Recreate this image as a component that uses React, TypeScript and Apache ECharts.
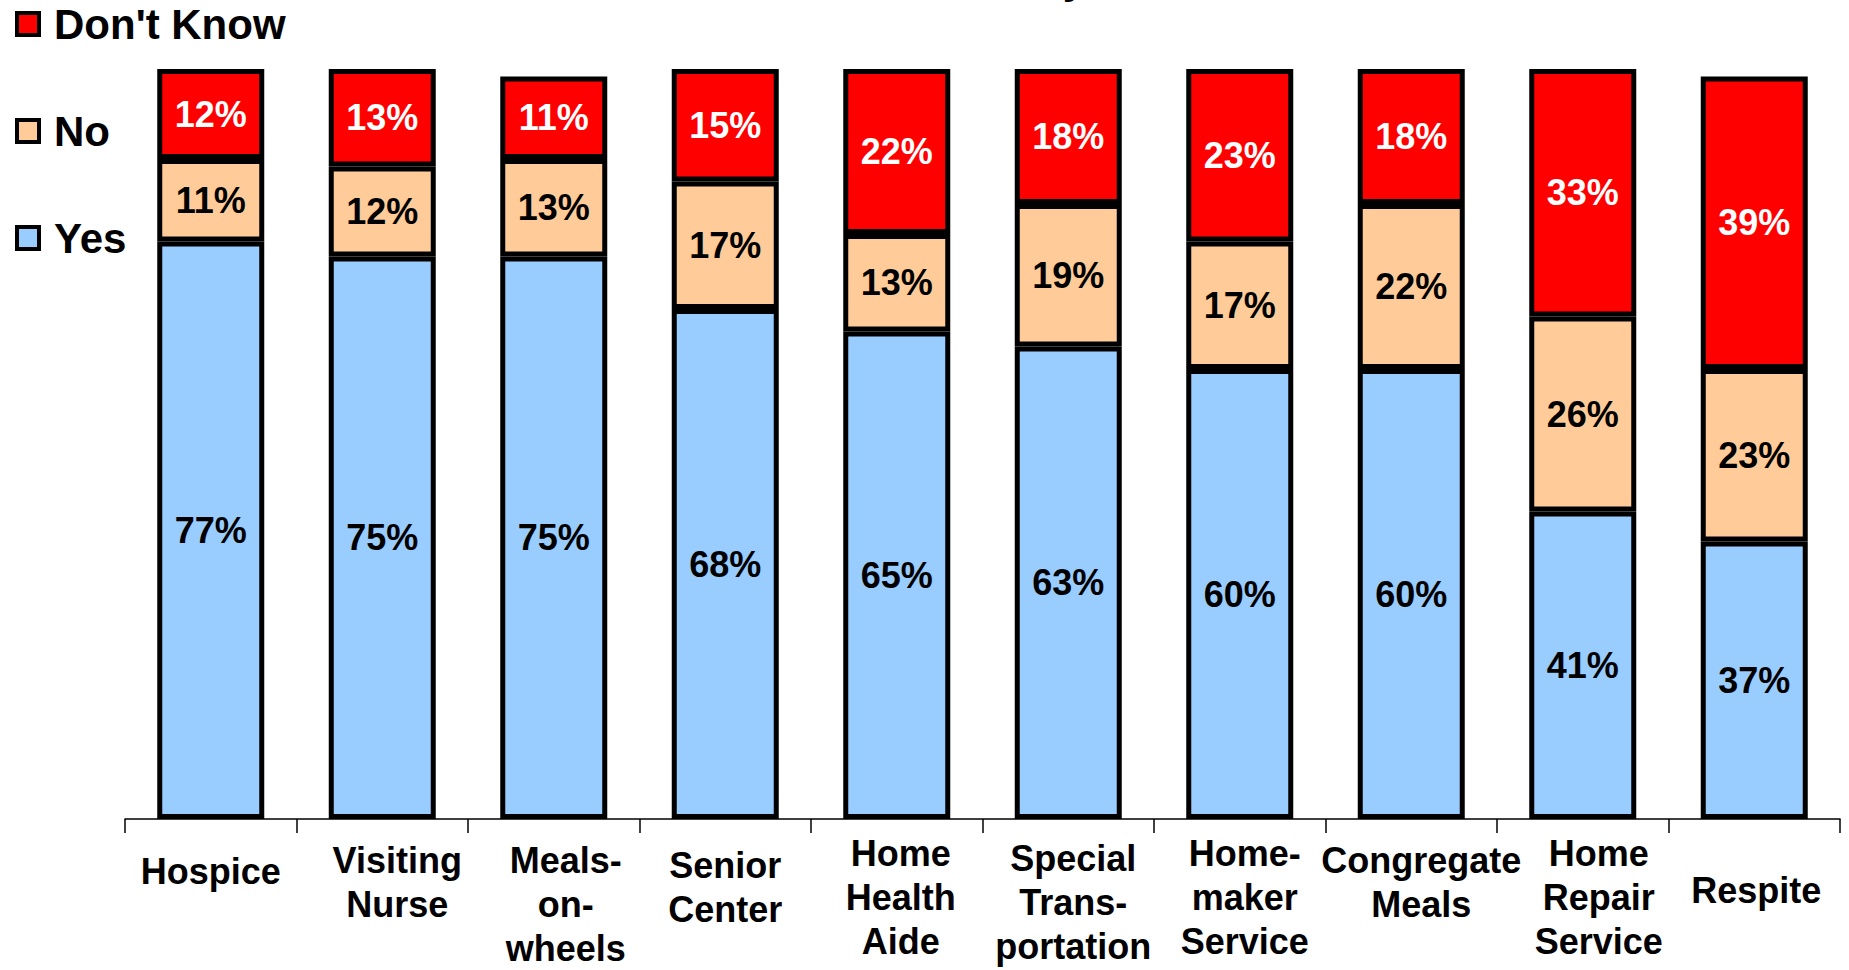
import React, { useEffect, useRef } from "react";
import * as echarts from "echarts";

const categories = [
  "Hospice",
  "Visiting\nNurse",
  "Meals-\non-\nwheels",
  "Senior\nCenter",
  "Home\nHealth\nAide",
  "Special\nTrans-\nportation",
  "Home-\nmaker\nService",
  "Congregate\nMeals",
  "Home\nRepair\nService",
  "Respite",
];
const yesValues = [77, 75, 75, 68, 65, 63, 60, 60, 41, 37];
const noValues = [11, 12, 13, 17, 13, 19, 17, 22, 26, 23];
const dontKnowValues = [12, 13, 11, 15, 22, 18, 23, 18, 33, 39];
const seriesNames = ["Yes", "No", "Don't Know"];
const titleText = "in Your Community";

// per-label layout tweaks: [top padding, left padding]
const labelPads = [
  [18, 0], [7, 30], [7, 24], [12, 0], [0, 8],
  [5, 10], [0, 10], [7, 20], [0, 32], [37, 4],
];

const FONT = "'Liberation Sans', Arial, sans-serif";

export default function App() {
  const ref = useRef<HTMLDivElement>(null);
  useEffect(() => {
    if (!ref.current) return;
    const chart = echarts.init(ref.current, null, { renderer: "svg" });
    const colors = ["#99CCFF", "#FFCC99", "#FF0000"];
    const values = [yesValues, noValues, dontKnowValues];
    const labelColors = ["#000000", "#000000", "#FFFFFF"];
    chart.setOption({
      animation: false,
      textStyle: { fontFamily: FONT },
      graphic: [
        {
          type: "text",
          x: 1086,
          y: -43,
          style: {
            text: titleText,
            font: `bold 42px ${FONT}`,
            fill: "#000",
            textAlign: "right",
            textVerticalAlign: "top",
          },
        },
      ],
      legend: {
        orient: "vertical",
        left: 15,
        top: 3,
        padding: 0,
        icon: "rect",
        itemWidth: 22,
        itemHeight: 22,
        itemGap: 65,
        data: ["Don't Know", "No", "Yes"],
        textStyle: {
          fontSize: 42,
          fontWeight: "bold",
          color: "#000",
          lineHeight: 40,
          padding: [0, 0, 0, 10],
          fontFamily: FONT,
        },
        itemStyle: { borderColor: "#000", borderWidth: 4, borderJoin: "miter" },
      },
      grid: { left: 125, right: 9, top: 69, bottom: 145, containLabel: false },
      xAxis: {
        type: "category",
        data: categories.map((c, i) => ({
          value: c,
          textStyle: { padding: [labelPads[i][0], 0, 0, labelPads[i][1]] },
        })),
        axisLine: { lineStyle: { color: "#000", width: 1.5 } },
        axisTick: { show: true, length: 14, lineStyle: { color: "#000", width: 1.5 } },
        axisLabel: {
          interval: 0,
          fontSize: 36,
          fontWeight: "bold",
          color: "#000",
          lineHeight: 44,
          margin: 12,
          fontFamily: FONT,
        },
      },
      yAxis: {
        type: "value",
        min: 0,
        max: 100,
        show: false,
        splitLine: { show: false },
      },
      series: seriesNames.map((name, i) => ({
        name,
        type: "bar",
        stack: "total",
        barWidth: 107,
        data: values[i],
        itemStyle: { color: colors[i], borderColor: "#000", borderWidth: 5 },
        label: {
          show: true,
          position: "inside",
          formatter: "{c}%",
          fontSize: 36,
          fontWeight: "bold",
          color: labelColors[i],
          fontFamily: FONT,
        },
      })),
    });
    return () => chart.dispose();
  }, []);
  return (
    <div
      ref={ref}
      style={{ position: "fixed", left: 0, top: 0, width: 1849, height: 970, background: "#fff" }}
    />
  );
}
